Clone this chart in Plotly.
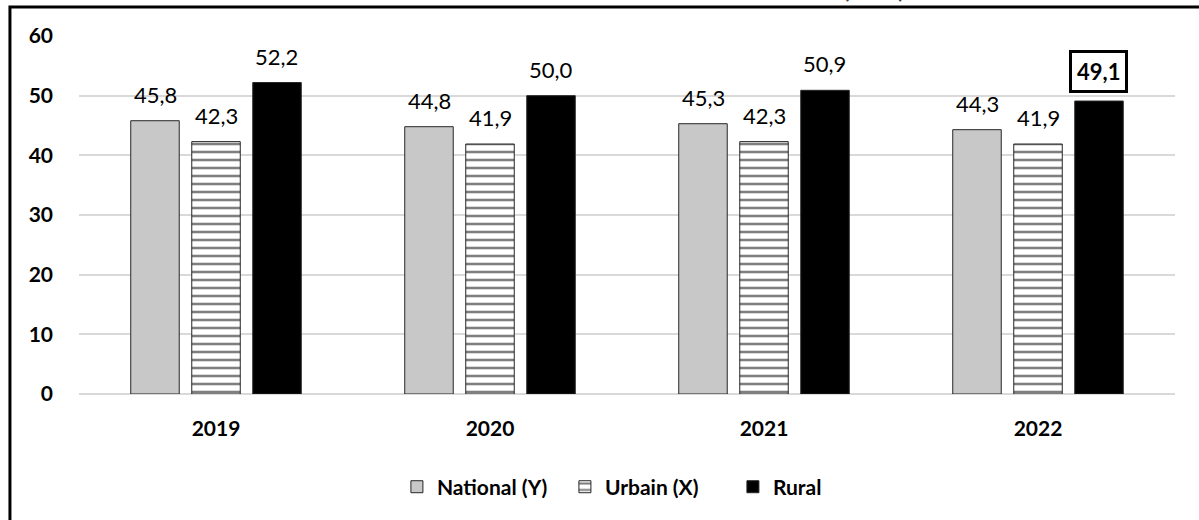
import plotly.graph_objects as go

years = ["2019", "2020", "2021", "2022"]
national = [45.8, 44.8, 45.3, 44.3]
urbain = [42.3, 41.9, 42.3, 41.9]
rural = [52.2, 50.0, 50.9, 49.1]
series_names = ["National (Y)", "Urbain (X)", "Rural"]
title_text = "Taux de concentration selon le milieu de résidence (en %)"

FONT = "Lato"

def fmt(v):
    return f"{v:.1f}".replace(".", ",")

fig = go.Figure()
fig.add_bar(x=years, y=national, name=series_names[0],
            marker=dict(color="#c8c8c8", line=dict(color="#262626", width=1)))
fig.add_bar(x=years, y=urbain, name=series_names[1],
            marker=dict(color="white", line=dict(color="#262626", width=1),
                        pattern=dict(shape="-", fgcolor="black", bgcolor="white",
                                     size=8, solidity=0.32, fillmode="overlay")))
fig.add_bar(x=years, y=rural, name=series_names[2],
            marker=dict(color="black", line=dict(color="#262626", width=1)))

shifts = [-60.5, 0, 60.5]
anns = []
for si, vals in enumerate([national, urbain, rural]):
    for yi, v in enumerate(vals):
        last = (si == 2 and yi == len(years) - 1)
        a = dict(
            x=yi, y=v, xref="x", yref="y", xshift=shifts[si], yshift=11 if not last else 8,
            yanchor="bottom", showarrow=False, text=("<b>" + fmt(v) + "</b>") if last else fmt(v),
            font=dict(family=FONT, size=22, color="black"),
        )
        if last:
            a.update(bordercolor="black", borderwidth=3, borderpad=5, bgcolor="white")
        anns.append(a)
anns.append(dict(x=0.489, y=1.0866, xref="paper", yref="paper", showarrow=False,
                 text="<b>" + title_text + "</b>", yanchor="bottom",
                 font=dict(family=FONT, size=23, color="#404040")))
fig.update_layout(annotations=anns)

fig.add_shape(type="rect", xref="paper", yref="paper", x0=-0.063, x1=1.1, y0=-0.5, y1=1.081,
              line=dict(color="black", width=3), fillcolor="rgba(0,0,0,0)", layer="below")

fig.update_layout(
    width=1199, height=520,
    margin=dict(l=79, r=24, t=36, b=126),
    paper_bgcolor="white", plot_bgcolor="white",
    barmode="group", bargap=0.332, bargroupgap=0.205,
    font=dict(family=FONT, size=21, color="black"),
    showlegend=True,
    legend=dict(orientation="h", x=0.52, xanchor="center", y=-0.26, yanchor="middle",
                font=dict(family=FONT, size=21, color="black", weight="bold"),
                traceorder="normal", entrywidth=123, itemwidth=30),
    xaxis=dict(type="category", range=[-0.5, len(years) - 0.5], showgrid=False, showline=False,
               ticks="", ticklabelstandoff=20,
               tickfont=dict(family=FONT, size=21, color="black", weight="bold")),
    yaxis=dict(range=[0, 60], dtick=10, showgrid=True, gridcolor="#d9d9d9", gridwidth=1.5,
               zeroline=True, zerolinecolor="#d9d9d9", zerolinewidth=1.5, showline=False,
               ticks="", ticklabelstandoff=25,
               tickfont=dict(family=FONT, size=21, color="black", weight="bold")),
)

fig.write_html("out.html", config={"displayModeBar": False},
               post_script="document.body.style.margin='0';")
